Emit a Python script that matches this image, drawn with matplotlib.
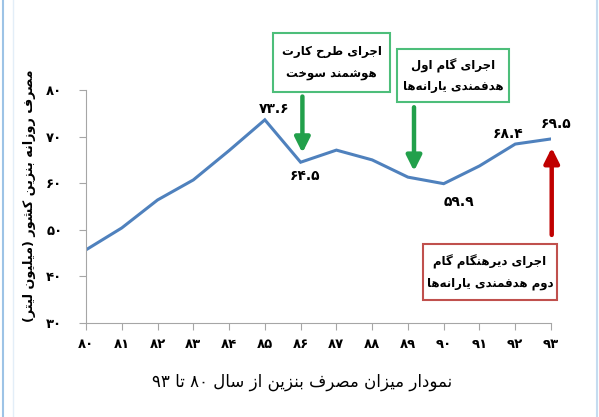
import matplotlib
matplotlib.use('Agg')
import matplotlib.pyplot as plt
from matplotlib.patches import Rectangle
from matplotlib.lines import Line2D

# --- داده ها ---
years = [80, 81, 82, 83, 84, 85, 86, 87, 88, 89, 90, 91, 92, 93]
consumption = [45.7, 50.4, 56.4, 60.7, 67.0, 73.6, 64.5, 67.1, 65.0, 61.3, 59.9, 63.7, 68.4, 69.5]
labelled = {85: '73.6', 86: '64.5', 90: '59.9', 92: '68.4', 93: '69.5'}
y_ticks = [30, 40, 50, 60, 70, 80]

y_title = 'مصرف روزانه بنزین کشور (میلیون لیتر)'
caption = 'نمودار میزان مصرف بنزین از سال ۸۰ تا ۹۳'
box1 = ['اجرای طرح کارت', 'هوشمند سوخت']
box2 = ['اجرای گام اول', 'هدفمندی یارانه\u200cها']
box3 = ['اجرای دیرهنگام گام', 'دوم هدفمندی یارانه\u200cها']

# --- shaping ساده برای متن فارسی ---
FORMS = {
    'ا': (0xFE8D, 0xFE8E, None, None), 'آ': (0xFE81, 0xFE82, None, None),
    'ب': (0xFE8F, 0xFE90, 0xFE91, 0xFE92), 'پ': (0xFB56, 0xFB57, 0xFB58, 0xFB59),
    'ت': (0xFE95, 0xFE96, 0xFE97, 0xFE98), 'ث': (0xFE99, 0xFE9A, 0xFE9B, 0xFE9C),
    'ج': (0xFE9D, 0xFE9E, 0xFE9F, 0xFEA0), 'چ': (0xFB7A, 0xFB7B, 0xFB7C, 0xFB7D),
    'ح': (0xFEA1, 0xFEA2, 0xFEA3, 0xFEA4), 'خ': (0xFEA5, 0xFEA6, 0xFEA7, 0xFEA8),
    'د': (0xFEA9, 0xFEAA, None, None), 'ذ': (0xFEAB, 0xFEAC, None, None),
    'ر': (0xFEAD, 0xFEAE, None, None), 'ز': (0xFEAF, 0xFEB0, None, None),
    'ژ': (0xFB8A, 0xFB8B, None, None),
    'س': (0xFEB1, 0xFEB2, 0xFEB3, 0xFEB4), 'ش': (0xFEB5, 0xFEB6, 0xFEB7, 0xFEB8),
    'ص': (0xFEB9, 0xFEBA, 0xFEBB, 0xFEBC), 'ض': (0xFEBD, 0xFEBE, 0xFEBF, 0xFEC0),
    'ط': (0xFEC1, 0xFEC2, 0xFEC3, 0xFEC4), 'ظ': (0xFEC5, 0xFEC6, 0xFEC7, 0xFEC8),
    'ع': (0xFEC9, 0xFECA, 0xFECB, 0xFECC), 'غ': (0xFECD, 0xFECE, 0xFECF, 0xFED0),
    'ف': (0xFED1, 0xFED2, 0xFED3, 0xFED4), 'ق': (0xFED5, 0xFED6, 0xFED7, 0xFED8),
    'ک': (0xFB8E, 0xFB8F, 0xFB90, 0xFB91), 'گ': (0xFB92, 0xFB93, 0xFB94, 0xFB95),
    'ل': (0xFEDD, 0xFEDE, 0xFEDF, 0xFEE0), 'م': (0xFEE1, 0xFEE2, 0xFEE3, 0xFEE4),
    'ن': (0xFEE5, 0xFEE6, 0xFEE7, 0xFEE8), 'ه': (0xFEE9, 0xFEEA, 0xFEEB, 0xFEEC),
    'و': (0xFEED, 0xFEEE, None, None), 'ی': (0xFBFC, 0xFBFD, 0xFBFE, 0xFBFF),
}
PERSIAN_DIGITS = '۰۱۲۳۴۵۶۷۸۹'


def fa_num(s):
    return ''.join(PERSIAN_DIGITS[int(c)] if c.isdigit() else c for c in str(s))


def shape(text):
    # lam-alef
    chars = []
    i = 0
    while i < len(text):
        if text[i] == 'ل' and i + 1 < len(text) and text[i + 1] == 'ا':
            chars.append('LA')
            i += 2
        else:
            chars.append(text[i])
            i += 1

    def joins_next(c):
        return c in FORMS and FORMS[c][2] is not None

    def joinable(c):
        return c in FORMS or c == 'LA'

    out = []
    for k, c in enumerate(chars):
        prev = chars[k - 1] if k > 0 else None
        nxt = chars[k + 1] if k + 1 < len(chars) else None
        from_prev = prev is not None and joins_next(prev)
        if c == 'LA':
            out.append(chr(0xFEFC) if from_prev else chr(0xFEFB))
            continue
        if c not in FORMS:
            if c != '\u200c':
                out.append(c)
            continue
        iso, fin, ini, med = FORMS[c]
        to_next = ini is not None and nxt is not None and joinable(nxt)
        if from_prev and to_next:
            out.append(chr(med))
        elif from_prev:
            out.append(chr(fin))
        elif to_next:
            out.append(chr(ini))
        else:
            out.append(chr(iso))
    # برعکس کردن برای راست به چپ، ولی اعداد سر جای خود
    rev = out[::-1]
    res, run = [], []
    for c in rev:
        if c in PERSIAN_DIGITS or c.isdigit():
            run.append(c)
        else:
            res.extend(run[::-1])
            run = []
            res.append({'(': ')', ')': '('}.get(c, c))
    res.extend(run[::-1])
    return ''.join(res)


plt.rcParams['font.family'] = ['DejaVu Sans']

W, H = 599, 417
fig = plt.figure(figsize=(W / 100, H / 100), dpi=100)
ax = fig.add_axes([86 / W, 1 - 323 / H, 465 / W, 233 / H])

ax.plot(years, consumption, color='#4F81BD', lw=2.2, solid_joinstyle='miter')
ax.set_xlim(80, 93)
ax.set_ylim(30, 80)
ax.set_xticks(years)
ax.set_xticklabels([fa_num(y) for y in years], fontsize=9.5, fontweight='bold')
ax.set_yticks(y_ticks)
ax.set_yticklabels([fa_num(y) for y in y_ticks], fontsize=9.5, fontweight='bold')
for s in ['top', 'right']:
    ax.spines[s].set_visible(False)
for s in ['left', 'bottom']:
    ax.spines[s].set_color('#A6A6A6')
ax.tick_params(axis='both', colors='#A6A6A6', labelcolor='black', length=5)
ax.tick_params(axis='x', pad=6)
ax.tick_params(axis='y', pad=12)

# برچسب مقادیر
offsets = {85: (7, 8), 86: (3, -10), 90: (11, -13), 92: (-5, 7), 93: (4, 10.5)}
for yr, txt in labelled.items():
    v = consumption[years.index(yr)]
    dx, dy = offsets[yr]
    ax.annotate(fa_num(txt), (yr, v), xytext=(dx, dy), textcoords='offset points',
                ha='center', va='center', fontsize=10, fontweight='bold')

ax.set_ylabel(shape(y_title), fontsize=9.2, fontweight='bold')
ax.yaxis.set_label_coords((36 - 86) / 465, (323 - 196) / 233)
fig.text(302 / W, 1 - 382 / H, shape(caption), ha='center', va='center', fontsize=12)

# فلش ها
def arrow(x, y0, y1, color):
    ax.annotate('', xy=(x, y1), xytext=(x, y0), annotation_clip=False,
                arrowprops=dict(arrowstyle='-|>,head_width=0.45,head_length=0.9',
                                lw=3.2, color=color, shrinkA=0, shrinkB=0))

arrow(86.05, 78.6, 66.5, '#22A04B')
arrow(89.17, 76.3, 62.6, '#22A04B')
arrow(93.02, 48.9, 67.6, '#C00000')

# جعبه ها (پیکسل)
def box(x0, y0, x1, y1, lines, edge):
    fig.patches.append(Rectangle((x0 / W, 1 - y1 / H), (x1 - x0) / W, (y1 - y0) / H,
                                 transform=fig.transFigure, fill=True, facecolor='white',
                                 edgecolor=edge, lw=1.5))
    cx = (x0 + x1) / 2 / W
    h = (y1 - y0)
    fig.text(cx, 1 - (y0 + h * 0.32) / H, shape(lines[0]), ha='center', va='center',
             fontsize=8.5, fontweight='bold')
    fig.text(cx, 1 - (y0 + h * 0.70) / H, shape(lines[1]), ha='center', va='center',
             fontsize=8.5, fontweight='bold')

box(273, 33, 390, 92, box1, '#4DBE7A')
box(397, 49, 509, 102, box2, '#4DBE7A')
box(423, 244, 557, 300, box3, '#C0504D')

# حاشیه های تصویر
fig.add_artist(Line2D([2.5 / W, 2.5 / W], [0, 1], color='#9DC3E6', lw=1.5))
fig.add_artist(Line2D([13 / W, 13 / W], [0, 1], color='#E3EEF8', lw=1))
fig.add_artist(Line2D([597 / W, 597 / W], [0, 1], color='#C5DCF0', lw=1.5))

fig.savefig('out.png', dpi=100)
